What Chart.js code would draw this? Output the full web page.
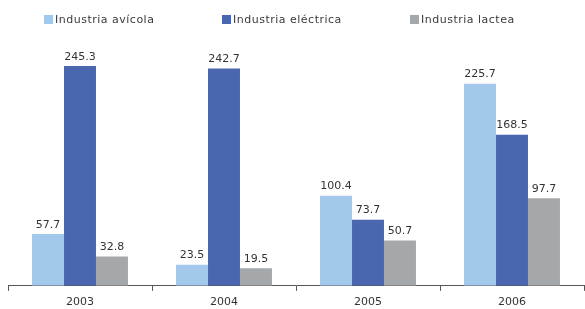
<!DOCTYPE html>
<html lang="es">
<head>
    <meta charset="UTF-8">
    <title>Industria</title>
    <script src="https://cdn.jsdelivr.net/npm/chart.js"></script>
    <style>
        body {
            margin: 0;
            background-color: #ffffff;
            font-family: "DejaVu Sans", sans-serif;
        }
        .wrap {
            position: relative;
            width: 585px;
            height: 309px;
        }
        .legend {
            position: absolute;
            top: 0;
            left: 0;
            width: 585px;
            height: 30px;
        }
        .legend span.item {
            position: absolute;
            top: 13px;
            font-size: 11px;
            letter-spacing: 0.5px;
            color: #3a3a3a;
            white-space: nowrap;
            line-height: 14px;
        }
        .legend span.box {
            display: inline-block;
            width: 9px;
            height: 9px;
            margin-right: 2px;
            vertical-align: -1px;
        }
    </style>
</head>
<body>
    <div class="wrap">
        <canvas id="industryChart" width="585" height="309"></canvas>
        <div class="legend" id="legend"></div>
    </div>

    <script>
        const years = ['2003', '2004', '2005', '2006'];
        const seriesNames = ['Industria avícola', 'Industria eléctrica', 'Industria lactea'];
        const avicola = [57.7, 23.5, 100.4, 225.7];
        const electrica = [245.3, 242.7, 73.7, 168.5];
        const lactea = [32.8, 19.5, 50.7, 97.7];

        const colors = ['#a2c8ec', '#4a66ae', '#a5a8ab'];
        const legendLeft = [44, 222, 410];

        // legend as html, same look as the picture
        const legendEl = document.getElementById('legend');
        seriesNames.forEach((name, i) => {
            const item = document.createElement('span');
            item.className = 'item';
            item.style.left = legendLeft[i] + 'px';
            const box = document.createElement('span');
            box.className = 'box';
            box.style.backgroundColor = colors[i];
            item.appendChild(box);
            item.appendChild(document.createTextNode(name));
            legendEl.appendChild(item);
        });

        // values above each bar
        const valueLabels = {
            id: 'valueLabels',
            afterDatasetsDraw(chart) {
                const ctx = chart.ctx;
                ctx.save();
                ctx.font = '11px "DejaVu Sans"';
                ctx.fillStyle = '#333333';
                ctx.textAlign = 'center';
                ctx.textBaseline = 'alphabetic';
                chart.data.datasets.forEach((ds, i) => {
                    chart.getDatasetMeta(i).data.forEach((bar, j) => {
                        ctx.fillText(ds.data[j].toFixed(1), bar.x, bar.y - 6.5);
                    });
                });
                ctx.restore();
            }
        };

        new Chart(document.getElementById('industryChart'), {
            type: 'bar',
            data: {
                labels: years,
                datasets: [
                    { label: seriesNames[0], data: avicola, backgroundColor: colors[0] },
                    { label: seriesNames[1], data: electrica, backgroundColor: colors[1] },
                    { label: seriesNames[2], data: lactea, backgroundColor: colors[2] }
                ]
            },
            options: {
                responsive: false,
                animation: false,
                datasets: {
                    bar: { categoryPercentage: 0.666, barPercentage: 1.0, borderWidth: 0 }
                },
                layout: { padding: { top: 35, left: 8, right: 1, bottom: -5 } },
                plugins: {
                    legend: { display: false },
                    tooltip: { enabled: false }
                },
                scales: {
                    x: {
                        grid: {
                            display: true,
                            drawOnChartArea: false,
                            drawTicks: true,
                            tickLength: 5,
                            color: '#555555',
                            offset: true
                        },
                        border: { display: true, color: '#555555', width: 1 },
                        ticks: {
                            color: '#333333',
                            padding: 5,
                            font: { family: 'DejaVu Sans', size: 11 }
                        }
                    },
                    y: {
                        display: false,
                        min: 0,
                        max: 280
                    }
                }
            },
            plugins: [valueLabels]
        });
    </script>
</body>
</html>
